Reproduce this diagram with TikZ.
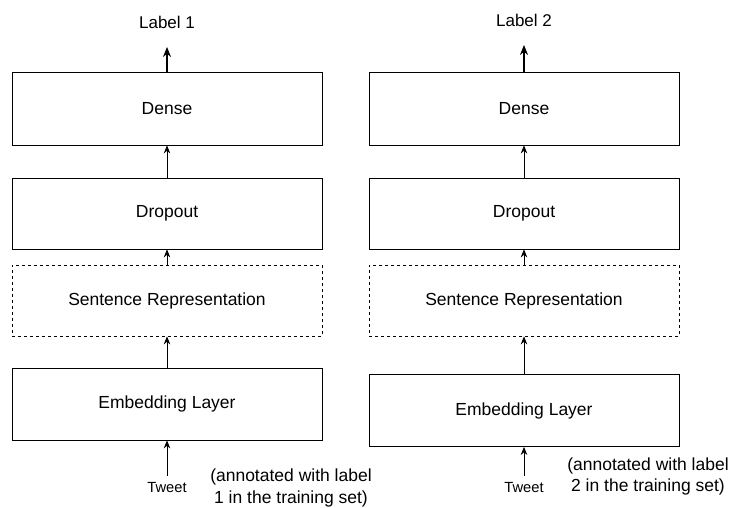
\documentclass[tikz,border=0pt]{standalone}
\usepackage{fontspec}
\setmainfont{Liberation Sans}
\usetikzlibrary{arrows.meta}

\begin{document}
\begin{tikzpicture}[x=1pt,y=-1pt,line width=.8pt,
		layer/.style={draw,minimum width=310pt,minimum height=71pt,font=\fontsize{17.5}{21}\selectfont},
		rep/.style={layer,dash pattern=on 3pt off 3pt},
		flow/.style={-{Stealth[length=8pt,width=6.5pt]}},
		result/.style={-{Stealth[length=10pt,width=8pt]},line width=2.6pt}]
		\useasboundingbox (0,0) rectangle (732,507);
		
		% Draw both columns
		\foreach \n/\cx/\ey/\ly/\ay/\ax in {1/167/404/22/488/291, 2/524/410.5/20/476.5/648}{
			\node[layer,minimum height=73pt] (dense\n) at (\cx,108.5) {Dense};
			\node[layer] (drop\n) at (\cx,213.5) {Dropout};
			\node[rep] (sent\n) at (\cx,300.5) {Sentence Representation};
			\node[layer,minimum height=72pt] (emb\n) at (\cx,\ey) {Embedding Layer};
			\node[font=\fontsize{17}{20}\selectfont] (label\n) at (\cx,\ly) {Label \n};
			\node[font=\fontsize{14.7}{17}\selectfont,outer sep=4pt] (tweet\n) at (\cx,488) {Tweet};
			\node[font=\fontsize{17.5}{21.5}\selectfont,align=center] (note\n) at (\ax,\ay) {(annotated with label\\ \n{} in the training set)};
			
			% Draw connectors
			\draw[flow] (tweet\n) -- (emb\n);
			\draw[flow] (emb\n) -- (sent\n);
			\draw[flow] (sent\n) -- (drop\n);
			\draw[flow] (drop\n) -- (dense\n);
			\draw[result,shorten >=15pt] (dense\n) -- (label\n);
		}
	\end{tikzpicture}
\end{document}
